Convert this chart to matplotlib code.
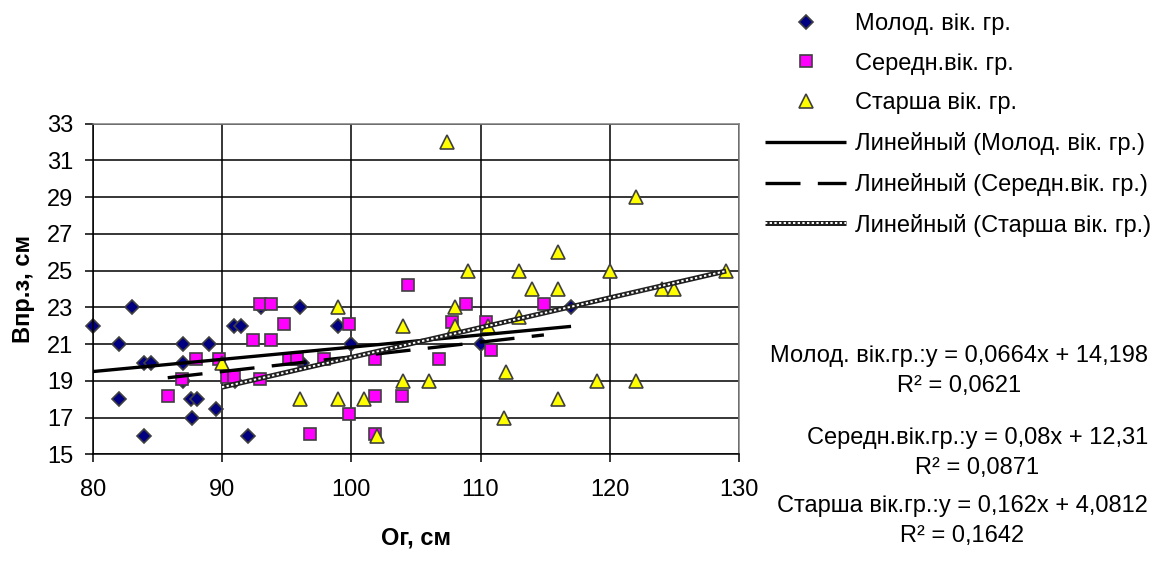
import matplotlib.pyplot as plt
import numpy as np

plt.rcParams['font.family'] = ['Liberation Sans', 'DejaVu Sans']

# young age group
young_x = [80, 82, 82, 83, 84, 84, 84.5, 87, 87, 87, 87.6, 88.1, 87.7, 89, 89.5,
           90.9, 91.5, 92, 91, 93, 96, 96.2, 99, 100, 110, 117]
young_y = [22, 21, 18, 23, 16, 20, 20, 21, 20, 19, 18, 18, 17, 21, 17.5,
           22, 22, 16, 19, 23, 23, 20, 22, 21, 21, 23]

# middle age group
middle_x = [85.8, 86.9, 88, 89.8, 90.4, 90.9, 92.4, 92.9, 93.8, 92.9, 93.8, 94.8,
            95.2, 95.8, 96.8, 97.9, 99.8, 99.8, 101.8, 101.8, 101.8, 103.9, 104.4,
            106.8, 107.8, 108.9, 110.4, 110.8, 114.9]
middle_y = [18.2, 19.1, 20.2, 20.2, 19.2, 19.2, 21.2, 23.2, 23.2, 19.1, 21.2, 22.1,
            20.2, 20.2, 16.1, 20.2, 22.1, 17.2, 20.2, 18.2, 16.1, 18.2, 24.2,
            20.2, 22.2, 23.2, 22.2, 20.7, 23.2]

# older age group
old_x = [90, 96, 99, 99, 101, 102, 104, 104, 106, 107.4, 108, 108, 109, 110.6, 112,
         111.8, 113, 113, 114, 116, 116, 116, 119, 120, 122, 122, 124, 125, 129]
old_y = [20, 18, 23, 18, 18, 16, 22, 19, 19, 32, 23, 22, 25, 22, 19.5,
         17, 25, 22.5, 24, 26, 24, 18, 19, 25, 29, 19, 24, 24, 25]

# trend coefficients (from the labels)
young_k, young_b = 0.0664, 14.198
middle_k, middle_b = 0.08, 12.31
old_k, old_b = 0.162, 4.0812

labels = ['Молод. вік. гр.', 'Середн.вік. гр.', 'Старша вік. гр.',
          'Линейный (Молод. вік. гр.)', 'Линейный (Середн.вік. гр.)',
          'Линейный (Старша вік. гр.)']
eq_texts = ['Молод. вік.гр.:y = 0,0664x + 14,198\nR² = 0,0621',
            'Середн.вік.гр.:y = 0,08x + 12,31\nR² = 0,0871',
            'Старша вік.гр.:y = 0,162x + 4,0812\nR² = 0,1642']

fs = 17
edge = '#404040'

fig = plt.figure(figsize=(11.68, 5.74), dpi=100)
ax = fig.add_axes([0.0794, 0.2082, 0.5534, 0.5766])

m1, = ax.plot(young_x, young_y, 'D', ms=7.4, mfc='#000080', mec=edge, mew=1.2, clip_on=False)
m2, = ax.plot(middle_x, middle_y, 's', ms=8.4, mfc='#FF00FF', mec=edge, mew=1.2, clip_on=False)
m3, = ax.plot(old_x, old_y, '^', ms=10.4, mfc='#FFFF00', mec=edge, mew=1.2, clip_on=False)

def trend(xs, k, b):
    xx = np.array([min(xs), max(xs)])
    return xx, k * xx + b

tx, ty = trend(young_x, young_k, young_b)
t1, = ax.plot(tx, ty, color='black', lw=2.4, solid_capstyle='butt')
tx, ty = trend(middle_x, middle_k, middle_b)
t2, = ax.plot(tx, ty, color='black', lw=2.4, dashes=(10.5, 5.2), dash_capstyle='butt')
tx, ty = trend(old_x, old_k, old_b)
t3a, = ax.plot(tx, ty, color='#202020', lw=3.6, solid_capstyle='butt')
t3b, = ax.plot(tx, ty, color='white', lw=1.4, dashes=(1.2, 1.2))

ax.set_xlim(80, 130)
ax.set_ylim(15, 33)
ax.set_xticks(np.arange(80, 131, 10))
ax.set_yticks(np.arange(15, 34, 2))
ax.grid(True, color='black', lw=1.1)
ax.set_axisbelow(True)
ax.tick_params(direction='out', length=5.8, width=1.1, labelsize=fs, color='black')
ax.tick_params(axis='x', pad=12)
ax.tick_params(axis='y', pad=8)
for s in ['left', 'bottom']:
    ax.spines[s].set_color('black')
    ax.spines[s].set_linewidth(1.1)
for s in ['top', 'right']:
    ax.spines[s].set_color('#808080')
    ax.spines[s].set_linewidth(1.1)

ax.set_xlabel('Ог, см', fontsize=fs, fontweight='bold', labelpad=18)
ax.set_ylabel('Впр.з, см', fontsize=fs, fontweight='bold', labelpad=9)

fig.legend([m1, m2, m3, t1, t2, (t3a, t3b)], labels, loc='upper left',
           bbox_to_anchor=(765 / 1168, 1 - 13 / 574), frameon=False, borderpad=0,
           borderaxespad=0, handlelength=3.45, handletextpad=0.38, labelspacing=0.75,
           fontsize=fs, numpoints=1)

for txt, yc in zip(eq_texts, [371, 453, 521]):
    fig.text(1148 / 1168, 1 - yc / 574, txt, ha='right', va='center',
             multialignment='center', fontsize=fs, linespacing=1.47)

fig.savefig('out.png', dpi=100)
